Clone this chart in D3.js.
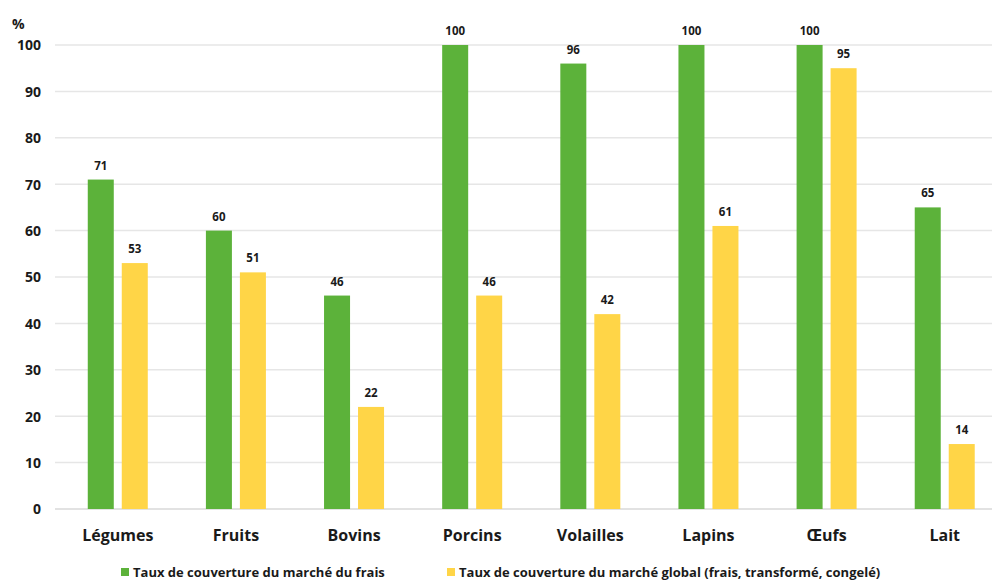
<!DOCTYPE html>
<html><head><meta charset="utf-8">
<script src="https://cdn.jsdelivr.net/npm/d3@7"></script>
<style>body{margin:0;background:#fff}svg{display:block}</style>
</head><body>
<svg id="c" width="992" height="580"></svg>
<script>
const categories = ["Légumes","Fruits","Bovins","Porcins","Volailles","Lapins","Œufs","Lait"];
const seriesNames = ["Taux de couverture du marché du frais","Taux de couverture du marché global (frais, transformé, congelé)"];
const fraisValues = [71,60,46,100,96,100,100,65];
const globalValues = [53,51,22,46,42,61,95,14];
const yTicks = [0,10,20,30,40,50,60,70,80,90,100];
const colors = ["#5cb23a","#ffd547"];

const svg = d3.select("#c");
const font = "'Open Sans', Lato, sans-serif";
const y = d3.scaleLinear().domain([0,100]).range([509,45]);
const x0 = d3.scaleBand().domain(categories).range([58.7,1003.8]).padding(0);
const x1 = d3.scaleBand().domain([0,1]).range([0,x0.bandwidth()]).paddingInner(0.235).paddingOuter(0.855);

// gridlines
svg.append("g").selectAll("line").data(yTicks).join("line")
  .attr("x1",55).attr("x2",992).attr("y1",d=>y(d)).attr("y2",d=>y(d))
  .attr("stroke",d=>d===0?"#d9d9d9":"#e6e6e6").attr("stroke-width",1.5);

// y axis labels
const yAxis = d3.axisLeft(y).tickValues(yTicks).tickSize(0).tickPadding(0);
const ga = svg.append("g").attr("transform","translate(41,0)").call(yAxis);
ga.select(".domain").remove();
ga.selectAll("text").attr("font-family",font).attr("font-weight","bold").attr("font-size",14).attr("fill","#1a1a1a").attr("dy","0.35em");

svg.append("text").attr("x",12).attr("y",29).text("%")
  .attr("font-family",font).attr("font-weight","bold").attr("font-size",14).attr("fill","#1a1a1a");

const data = categories.map((c,i)=>({cat:c, vals:[fraisValues[i],globalValues[i]]}));
const groups = svg.append("g").selectAll("g").data(data).join("g")
  .attr("transform",d=>`translate(${x0(d.cat)},0)`);
groups.selectAll("rect").data(d=>d.vals.map((v,k)=>({v,k}))).join("rect")
  .attr("x",d=>x1(d.k)).attr("width",x1.bandwidth())
  .attr("y",d=>y(d.v)).attr("height",d=>y(0)-y(d.v))
  .attr("fill",d=>colors[d.k]);
groups.selectAll("text.v").data(d=>d.vals.map((v,k)=>({v,k}))).join("text").attr("class","v")
  .attr("x",d=>x1(d.k)+x1.bandwidth()/2).attr("y",d=>y(d.v)-10)
  .attr("text-anchor","middle").text(d=>d.v)
  .attr("font-family",font).attr("font-weight","bold").attr("font-size",11.5).attr("fill","#1a1a1a");

// x axis labels
const xAxis = d3.axisBottom(x0).tickSize(0).tickPadding(0);
const gx = svg.append("g").attr("transform","translate(0,530)").call(xAxis);
gx.select(".domain").remove();
gx.selectAll("text").attr("font-family",font).attr("font-weight","bold").attr("font-size",16).attr("fill","#1a1a1a");

// legend
const legX = [121,447];
const lg = svg.append("g").selectAll("g").data(seriesNames).join("g")
  .attr("transform",(d,i)=>`translate(${legX[i]},568)`);
lg.append("rect").attr("width",8).attr("height",8).attr("fill",(d,i)=>colors[i]);
lg.append("text").attr("x",12).attr("y",8.5).text(d=>d)
  .attr("font-family",font).attr("font-weight","bold").attr("font-size",13).attr("fill","#1a1a1a");
</script>
</body></html>
